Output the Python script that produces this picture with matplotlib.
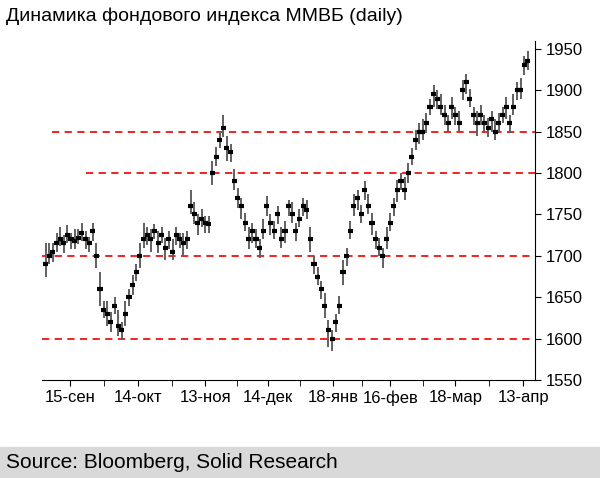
import matplotlib
matplotlib.use("Agg")
import matplotlib.pyplot as plt
import numpy as np
plt.rcParams["font.family"] = "Liberation Sans"

close = [1690,1700,1705,1715,1720,1715,1725,1720,1718,1722,
         1728,1720,1715,1730,1700,1660,1635,1630,1620,1640,
         1615,1610,1630,1650,1665,1680,1700,1720,1725,1720,
         1730,1715,1725,1710,1720,1705,1725,1720,1715,1720,
         1760,1750,1740,1745,1740,1738,1800,1820,1840,1855,
         1830,1825,1790,1770,1760,1740,1720,1730,1720,1710,
         1730,1760,1740,1730,1750,1720,1730,1760,1750,1730,
         1745,1760,1755,1720,1690,1675,1660,1640,1610,1600,
         1620,1640,1680,1700,1730,1760,1770,1750,1780,1760,
         1740,1720,1710,1700,1720,1740,1760,1780,1790,1780,
         1800,1820,1840,1850,1850,1860,1880,1895,1890,1880,
         1870,1860,1880,1870,1860,1900,1910,1890,1870,1860,
         1870,1860,1855,1865,1850,1860,1870,1880,1860,1880,
         1900,1900,1930,1935]
up = [25,15,10,12,15,10,12,8,15,10, 12,10,8,10,15,20,10,15,12,10,
      20,10,15,10,12,10,15,20,10,12, 8,15,10,12,10,15,10,8,12,10,
      20,15,10,12,8,10,15,12,10,15, 15,10,15,12,10,12,15,10,12,10,
      15,12,10,12,10,15,12,8,15,10, 12,10,12,15,10,12,10,15,12,10,
      10,12,15,10,12,15,10,12,10,15, 12,10,12,10,15,12,10,12,10,15,
      12,10,12,10,15,12,10,12,10,15, 12,10,12,10,15,12,10,12,10,15,
      12,10,12,10,15,12,10,12,10,15, 10,15,12,12]
dn = [15,10,12,10,8,12,10,12,10,8, 10,12,10,12,15,20,10,15,12,10,
      12,10,15,10,12,10,15,10,12,15, 10,12,10,15,12,10,12,10,15,12,
      10,12,15,10,12,10,15,12,10,12, 15,12,10,12,15,10,12,15,10,12,
      10,12,15,10,12,10,15,12,10,12, 10,12,10,15,12,10,12,15,20,15,
      12,10,15,12,10,12,15,10,12,10, 15,12,10,15,12,10,12,15,10,12,
      12,10,12,15,10,12,10,15,12,10, 12,10,15,12,10,12,15,10,12,15,
      12,10,12,15,10,12,10,15,12,10, 12,10,12,10]
tick_labels = ["15-сен","14-окт","13-ноя","14-дек","18-янв","16-фев","18-мар","13-апр"]
tick_frac = [0.057,0.195,0.331,0.458,0.590,0.706,0.838,0.976]
levels = [1600,1700,1800,1850]
level_start = [0.0,0.0,0.09,0.02]

n = len(close)
x = np.arange(n)
c = np.array(close); hi = c + np.array(up); lo = c - np.array(dn)

fig = plt.figure(figsize=(6,4.78), dpi=100)
ax = fig.add_axes([0.07,0.205,0.822,0.71])
xmin, xmax = -1, n + 1
ax.set_xlim(xmin, xmax)
ax.set_ylim(1550,1960)
for lv, s in zip(levels, level_start):
    ax.axhline(lv, xmin=s, xmax=1, color="#ee1111", ls=(0,(4,3)), lw=1.3, zorder=1)
ax.vlines(x, lo, hi, color="#606060", lw=1.4, zorder=2)
ax.hlines(c, x-0.7, x+0.7, color="black", lw=3, zorder=3)

ax.yaxis.tick_right()
ax.set_yticks([1550,1600,1650,1700,1750,1800,1850,1900,1950])
span = xmax - xmin
ax.set_xticks([xmin + f*span for f in tick_frac])
ax.set_xticklabels(tick_labels)
ax.xaxis.set_minor_locator(matplotlib.ticker.FixedLocator(
    [xmin + (tick_frac[i]+tick_frac[i+1])/2*span for i in range(len(tick_frac)-1)]))
for sp in ["top","left"]:
    ax.spines[sp].set_visible(False)
ax.tick_params(labelsize=12, direction="out", length=4)
ax.tick_params(axis="x", which="minor", length=4)

fig.text(0.01,0.965,"Динамика фондового индекса ММВБ (daily)", fontsize=14, va="center")
fig.patches.append(matplotlib.patches.Rectangle((0,0),1,0.065, transform=fig.transFigure,
    color="#d9d9d9", zorder=0))
fig.text(0.01,0.032,"Source: Bloomberg, Solid Research", fontsize=15, va="center")
fig.savefig("out.png", dpi=100)
